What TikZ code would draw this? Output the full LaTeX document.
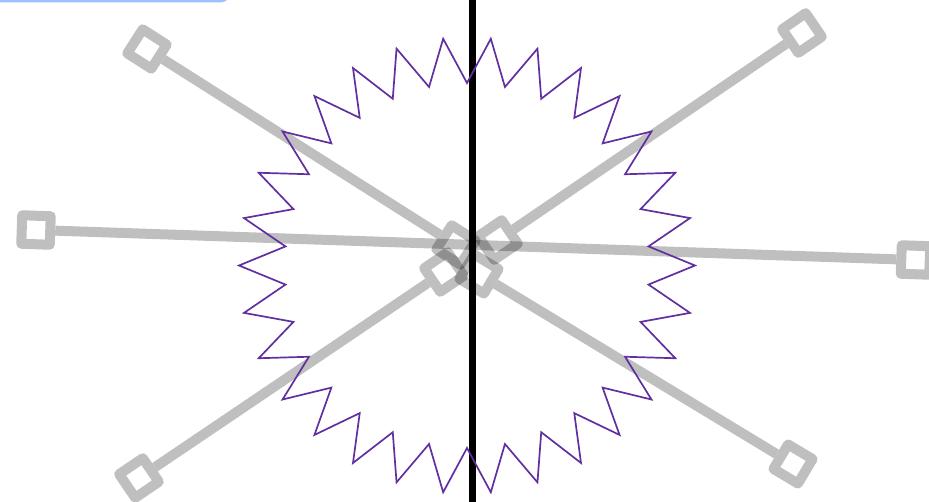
\documentclass[tikz,border=0pt]{standalone}
\definecolor{starpurple}{RGB}{96,48,160}
\definecolor{barblue}{RGB}{153,194,255}
\begin{document}
\begin{tikzpicture}[x=1pt,y=-1pt,
  sq/.style={draw=black, line width=10pt, minimum size=28.5pt, inner sep=0pt, shape=rectangle, line join=round},
  arm/.style={draw=black, line width=10pt},
  grp/.style={transparency group, opacity=0.25},
  starline/.style={draw=starpurple, line width=1.7pt, line join=miter}]
\useasboundingbox (0,0) rectangle (929,502);
% top-left tab
\fill[barblue, rounded corners=12pt] (-20,-30) rectangle (232,2.5);
% horizontal arm
\begin{scope}[grp]
  \node[sq, rotate=-2] (hl) at (36,230) {};
  \node[sq, rotate=-2] (hr) at (915.5,260) {};
  \draw[arm] (hl) -- (hr);
\end{scope}
% upper-left arm
\begin{scope}[grp]
  \node[sq, rotate=-32.6] (ulo) at (147,49) {};
  \node[sq, rotate=-32.6] (uli) at (456,245) {};
  \draw[arm] (ulo) -- (uli);
\end{scope}
% upper-right arm
\begin{scope}[grp]
  \node[sq, rotate=34.3] (uro) at (802,33) {};
  \node[sq, rotate=34.3] (uri) at (498,240) {};
  \draw[arm] (uro) -- (uri);
\end{scope}
% lower-left arm
\begin{scope}[grp]
  \node[sq, rotate=34.1] (llo) at (139,478) {};
  \node[sq, rotate=34.1] (lli) at (444,272) {};
  \draw[arm] (llo) -- (lli);
\end{scope}
% lower-right arm
\begin{scope}[grp]
  \node[sq, rotate=-30.9] (lro) at (793,464) {};
  \node[sq, rotate=-30.9] (lri) at (479,274) {};
  \draw[arm] (lro) -- (lri);
\end{scope}
% vertical black line
\coordinate (vt) at (472.8,-5);
\coordinate (vb) at (472.8,510);
\draw[line width=7pt] (vt) -- (vb);
% star
\begin{scope}[shift={(467,265.5)}]
  \draw[starline] (0:228) \foreach \i in {0,...,29}{ -- ({\i*12+6}:182.5) -- ({\i*12+12}:228) } -- cycle;
\end{scope}
\end{tikzpicture}
\end{document}
